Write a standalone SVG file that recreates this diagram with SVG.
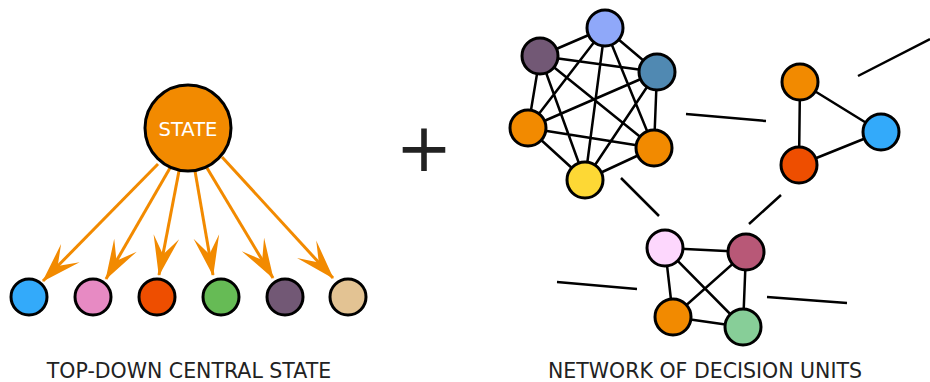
<svg xmlns="http://www.w3.org/2000/svg" width="930" height="382" viewBox="0 0 930 382">
<defs>
<style>
.n{stroke:#000;stroke-width:3}
.e{stroke:#000;stroke-width:2.5;fill:none}
.a{stroke:#F28A00;stroke-width:3;fill:none;marker-end:url(#ah)}
.lbl{font-family:"DejaVu Sans",sans-serif;font-size:20.5px;fill:#222;text-anchor:middle}
</style>
<marker id="ah" markerUnits="userSpaceOnUse" viewBox="-42 -15 44 30" markerWidth="44" markerHeight="30" refX="0" refY="0" orient="auto">
<path d="M1,0 L-39,-13 L-21,0 L-39,13 Z" fill="#F28A00"/>
</marker>
</defs>
<rect width="930" height="382" fill="#fff"/>

<g id="arrows">
<line class="a" x1="158" y1="164" x2="43" y2="281"/>
<line class="a" x1="170" y1="168" x2="106" y2="279"/>
<line class="a" x1="179" y1="171" x2="159" y2="275"/>
<line class="a" x1="195" y1="171" x2="213" y2="275"/>
<line class="a" x1="207" y1="168" x2="273" y2="278"/>
<line class="a" x1="222" y1="157" x2="333" y2="278"/>
</g>

<g id="state">
<circle class="n" cx="188" cy="128" r="43" fill="#F28A00"/>
<text x="188" y="135.5" font-family="DejaVu Sans, sans-serif" font-size="19.5" fill="#fff" text-anchor="middle">STATE</text>
</g>
<g id="s1"><circle class="n" cx="29" cy="297" r="18" fill="#33AAFA"/></g>
<g id="s2"><circle class="n" cx="93" cy="297" r="18" fill="#E78AC3"/></g>
<g id="s3"><circle class="n" cx="157" cy="297" r="18" fill="#EE4E00"/></g>
<g id="s4"><circle class="n" cx="221" cy="297" r="18" fill="#66BB55"/></g>
<g id="s5"><circle class="n" cx="285" cy="297" r="18" fill="#725875"/></g>
<g id="s6"><circle class="n" cx="348" cy="297" r="18" fill="#E3C393"/></g>

<text x="424" y="171" font-family="DejaVu Sans, sans-serif" font-size="68" fill="#222" text-anchor="middle">+</text>

<g id="edges">
<path class="e" d="M605,28 L540,56 M605,28 L657,72 M605,28 L528,128 M605,28 L654,148 M605,28 L585,180
M540,56 L657,72 M540,56 L528,128 M540,56 L654,148 M540,56 L585,180
M657,72 L528,128 M657,72 L654,148 M657,72 L585,180
M528,128 L654,148 M528,128 L585,180 M654,148 L585,180"/>
<path class="e" d="M800,82 L881,132 M800,82 L799,165 M799,165 L881,132"/>
<path class="e" d="M665,248 L746,252 M665,248 L673,317 M665,248 L743,327 M746,252 L673,317 M746,252 L743,327 M673,317 L743,327"/>
<path class="e" d="M686,114 L766,121 M858,76 L930,39 M621,178 L659,216 M781,195 L749,224 M557,282 L637,289 M767,297 L847,303"/>
</g>

<g id="c1"><circle class="n" cx="605" cy="28" r="18" fill="#8FA8F9"/></g>
<g id="c2"><circle class="n" cx="540" cy="56" r="18" fill="#725875"/></g>
<g id="c3"><circle class="n" cx="657" cy="72" r="18" fill="#5089B2"/></g>
<g id="c4"><circle class="n" cx="528" cy="128" r="18" fill="#F28A00"/></g>
<g id="c5"><circle class="n" cx="654" cy="148" r="18" fill="#F28A00"/></g>
<g id="c6"><circle class="n" cx="585" cy="180" r="18" fill="#FDD835"/></g>
<g id="t1"><circle class="n" cx="800" cy="82" r="18" fill="#F28A00"/></g>
<g id="t2"><circle class="n" cx="881" cy="132" r="18" fill="#33AAFA"/></g>
<g id="t3"><circle class="n" cx="799" cy="165" r="18" fill="#EE4E00"/></g>
<g id="q1"><circle class="n" cx="665" cy="248" r="18" fill="#FDD7FD"/></g>
<g id="q2"><circle class="n" cx="746" cy="252" r="18" fill="#B85877"/></g>
<g id="q3"><circle class="n" cx="673" cy="317" r="18" fill="#F28A00"/></g>
<g id="q4"><circle class="n" cx="743" cy="327" r="18" fill="#87CE98"/></g>

<text class="lbl" x="189" y="378">TOP-DOWN CENTRAL STATE</text>
<text class="lbl" x="705" y="378">NETWORK OF DECISION UNITS</text>
</svg>
